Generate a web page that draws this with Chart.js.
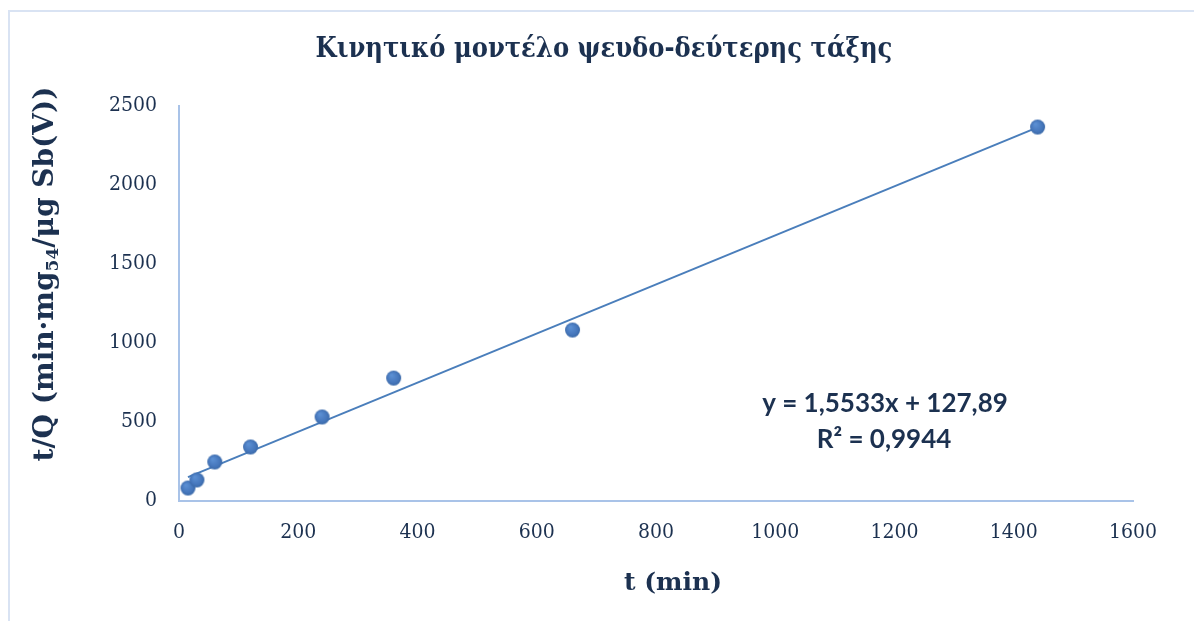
<!DOCTYPE html>
<html>
<head>
<meta charset="utf-8">
<script src="https://cdn.jsdelivr.net/npm/chart.js@4/dist/chart.umd.min.js"></script>
<style>
  html, body { margin: 0; padding: 0; background: #ffffff; }
  #wrap { position: relative; width: 1194px; height: 621px; }
  #frame { position: absolute; left: 8px; top: 10px; right: 0; bottom: 0;
           border-left: 2px solid #D9E3F3; border-top: 2px solid #D9E3F3; pointer-events: none; }
  canvas { position: absolute; left: 0; top: 0; }
</style>
</head>
<body>
<div id="wrap">
  <canvas id="chart" width="1194" height="621"></canvas>
  <div id="frame"></div>
</div>
<script>
// Contact time (min) and t/Q for the pseudo-second-order kinetic plot
const timeMin = [15, 30, 60, 120, 240, 360, 660, 1440];
const tOverQ  = [82, 133, 247, 342, 532, 778, 1082, 2367];

// Linear fit as printed on the chart
const fitSlope = 1.5533;
const fitIntercept = 127.89;
const fitR2 = 0.9944;

const xTicks = [0, 200, 400, 600, 800, 1000, 1200, 1400, 1600];
const yTicks = [0, 500, 1000, 1500, 2000, 2500];

const titleText = 'Κινητικό μοντέλο ψευδο-δεύτερης τάξης';
const xTitle = 't (min)';
const yTitleParts = ['t/Q (min·mg', '54', '/μg Sb(V))'];

const fmt = v => v.toFixed(4).replace(/0+$/, '').replace('.', ',');
const eqLine1 = 'y = ' + fmt(fitSlope) + 'x + ' + fmt(fitIntercept);
const eqLine2 = 'R² = ' + fmt(fitR2);

const fitX = [timeMin[0], timeMin[timeMin.length - 1]];
const fitPoints = fitX.map(x => ({ x: x, y: fitSlope * x + fitIntercept }));
const scatterPoints = timeMin.map((t, i) => ({ x: t, y: tOverQ[i] }));

// Shaded round marker
function makeMarker(r) {
  const c = document.createElement('canvas');
  const s = r * 2 + 2;
  c.width = s; c.height = s;
  const g = c.getContext('2d');
  const cx = s / 2, cy = s / 2;
  const grad = g.createRadialGradient(cx - r * 0.3, cy - r * 0.4, r * 0.1, cx, cy, r);
  grad.addColorStop(0, '#5B8FD3');
  grad.addColorStop(0.7, '#4677BC');
  grad.addColorStop(1, '#3A69A8');
  g.beginPath();
  g.arc(cx, cy, r, 0, Math.PI * 2);
  g.fillStyle = grad;
  g.fill();
  return c;
}
const marker = makeMarker(7.5);

const serif = '"DejaVu Serif", serif';
const serifCond = '"DejaVu Serif Condensed", "DejaVu Serif", serif';
const sans = 'Lato, "Open Sans", sans-serif';
const textColor = '#1C3150';

// Titles and fit equation drawn on the canvas
const textPlugin = {
  id: 'chartText',
  afterDraw(chart) {
    const ctx = chart.ctx;
    ctx.save();
    ctx.fillStyle = textColor;
    ctx.textBaseline = 'middle';
    ctx.textAlign = 'center';

    ctx.font = 'bold 27px ' + serifCond;
    ctx.fillText(titleText, 604, 50);

    ctx.font = 'bold 25px ' + serif;
    ctx.fillText(xTitle, 673, 583);

    ctx.font = 'bold 26px ' + sans;
    ctx.fillText(eqLine1, 885, 404);
    ctx.fillText(eqLine2, 884, 440);

    // vertical axis title with subscript
    ctx.translate(46, 274);
    ctx.rotate(-Math.PI / 2);
    const big = 'bold 28px ' + serif, small = 'bold 17px ' + serif;
    ctx.font = big; const w0 = ctx.measureText(yTitleParts[0]).width;
    ctx.font = small; const w1 = ctx.measureText(yTitleParts[1]).width;
    ctx.font = big; const w2 = ctx.measureText(yTitleParts[2]).width;
    let x = -(w0 + w1 + w2) / 2;
    ctx.textAlign = 'left';
    ctx.font = big; ctx.fillText(yTitleParts[0], x, 0); x += w0;
    ctx.font = small; ctx.fillText(yTitleParts[1], x, 8); x += w1;
    ctx.font = big; ctx.fillText(yTitleParts[2], x, 0);
    ctx.restore();
  }
};

new Chart(document.getElementById('chart'), {
  type: 'scatter',
  data: {
    datasets: [
      {
        label: 't/Q',
        data: scatterPoints,
        pointStyle: marker,
        pointRadius: 7.5,
        pointHoverRadius: 7.5,
        order: 1
      },
      {
        label: 'Linear fit',
        type: 'line',
        data: fitPoints,
        borderColor: '#4A7EBB',
        borderWidth: 2,
        pointRadius: 0,
        fill: false,
        order: 2
      }
    ]
  },
  options: {
    responsive: false,
    animation: false,
    layout: { padding: { top: 106, right: 61, left: 0, bottom: 0 } },
    plugins: {
      legend: { display: false },
      title: { display: false },
      tooltip: { enabled: false }
    },
    scales: {
      x: {
        type: 'linear',
        min: xTicks[0],
        max: xTicks[xTicks.length - 1],
        afterBuildTicks: s => { s.ticks = xTicks.map(v => ({ value: v })); },
        afterFit: s => { s.height = 120; },
        grid: { display: false, drawTicks: false },
        border: { display: true, color: '#A9C3E8', width: 2 },
        ticks: { padding: 19, color: textColor, font: { family: serifCond, size: 21 },
                 callback: v => String(v) }
      },
      y: {
        type: 'linear',
        min: yTicks[0],
        max: yTicks[yTicks.length - 1],
        afterBuildTicks: s => { s.ticks = yTicks.map(v => ({ value: v })); },
        afterFit: s => { s.width = 179; },
        grid: { display: false, drawTicks: false },
        border: { display: true, color: '#A9C3E8', width: 2 },
        ticks: { padding: 22, color: textColor, font: { family: serifCond, size: 21 },
                 callback: v => String(v) }
      }
    }
  },
  plugins: [textPlugin]
});
</script>
</body>
</html>
